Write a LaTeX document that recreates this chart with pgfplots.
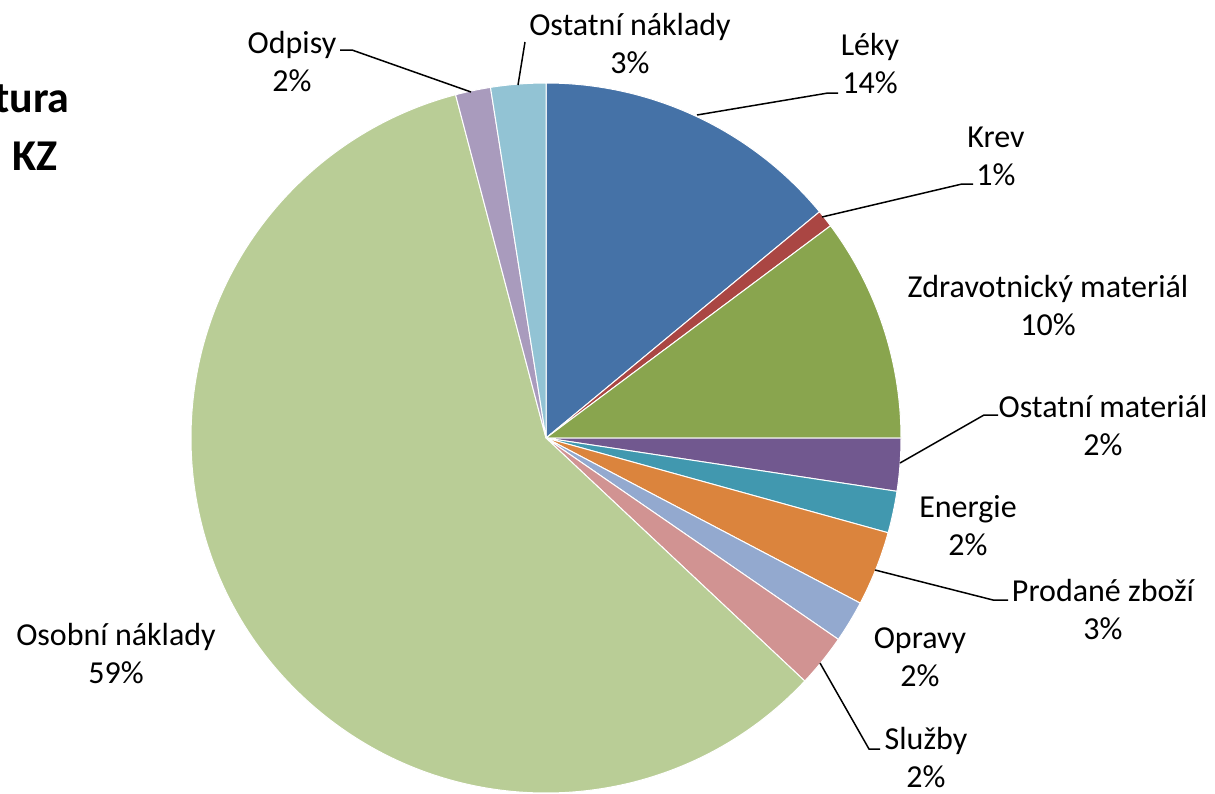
\documentclass[border=0pt]{standalone}
\usepackage{pgfplots}
\usepackage{pgfplotstable}
\pgfplotsset{compat=1.18}
\usepackage{fontspec}
\setmainfont{Carlito}

% Excel 2007 default palette
\definecolor{slice0}{HTML}{4572A7}
\definecolor{slice1}{HTML}{AA4643}
\definecolor{slice2}{HTML}{89A54E}
\definecolor{slice3}{HTML}{71588F}
\definecolor{slice4}{HTML}{4198AF}
\definecolor{slice5}{HTML}{DB843D}
\definecolor{slice6}{HTML}{93A9CF}
\definecolor{slice7}{HTML}{D19392}
\definecolor{slice8}{HTML}{B9CD96}
\definecolor{slice9}{HTML}{A99BBD}
\definecolor{slice10}{HTML}{92C3D4}

\tikzset{
    lbl/.style={align=center, font=\fontsize{16}{19}\selectfont},
    lead/.style={black, line width=0.75pt},
    ttl/.style={anchor=base east, inner sep=0pt, font=\bfseries\fontsize{22}{29}\selectfont},
}

% share of costs in percent, clockwise from 12 o'clock
\pgfplotstableread{
value
14.0
0.8
10.2
2.4
1.9
3.4
1.9
2.4
58.9
1.6
2.5
}\piedata

\begin{document}
\begin{tikzpicture}
\begin{axis}[
    x=0.5pt, y=0.5pt,
    xmin=0, xmax=1215, ymin=0, ymax=793,
    y dir=reverse,
    hide axis, clip=false,
]
\coordinate (bl) at (axis cs:0,793);
\coordinate (tr) at (axis cs:1215,0);
\gdef\cum{0}
\foreach \i in {0,...,10}{
    \pgfplotstablegetelem{\i}{value}\of\piedata
    \pgfmathsetmacro\a{90-3.6*\cum}
    \pgfmathsetmacro\b{90-3.6*(\cum+\pgfplotsretval)}
    \edef\cmd{\noexpand\fill[slice\i, draw=white, line width=0.5pt]
        (axis cs:546,438) -- ++(\a:177.5pt)
        arc[start angle=\a, end angle=\b, radius=177.5pt] -- cycle;}
    \cmd
    \pgfmathparse{\cum+\pgfplotsretval}
    \xdef\cum{\pgfmathresult}
}

% leader lines
\draw[lead] (axis cs:471,92) -- (axis cs:352,50) -- (axis cs:340,50);
\draw[lead] (axis cs:518,85) -- (axis cs:525,42);
\draw[lead] (axis cs:697,115) -- (axis cs:828,93) -- (axis cs:838,93);
\draw[lead] (axis cs:822,217) -- (axis cs:962,184) -- (axis cs:973,184);
\draw[lead] (axis cs:900,463) -- (axis cs:984,415) -- (axis cs:998,415);
\draw[lead] (axis cs:875,570) -- (axis cs:993,600) -- (axis cs:1008,600);
\draw[lead] (axis cs:820,663) -- (axis cs:869,749) -- (axis cs:880,749);

% data labels
\node[lbl] at (axis cs:630,44) {Ostatní náklady\\3\%};
\node[lbl] at (axis cs:870,64) {Léky\\14\%};
\node[lbl] at (axis cs:292,62) {Odpisy\\2\%};
\node[lbl] at (axis cs:996,156) {Krev\\1\%};
\node[lbl] at (axis cs:1048,306) {Zdravotnický materiál\\10\%};
\node[lbl] at (axis cs:1103,426) {Ostatní materiál\\2\%};
\node[lbl] at (axis cs:968,526) {Energie\\2\%};
\node[lbl] at (axis cs:1103,610) {Prodané zboží\\3\%};
\node[lbl] at (axis cs:920,657) {Opravy\\2\%};
\node[lbl] at (axis cs:926,758) {Služby\\2\%};
\node[lbl] at (axis cs:116,654) {Osobní náklady\\59\%};

% chart title, cut off at the left edge
\begin{scope}
\clip (axis cs:0,0) rectangle (axis cs:1215,793);
\node[ttl] at (axis cs:70,112) {Struktura};
\node[ttl] at (axis cs:58,170) {nákladů\hspace{0.6em}KZ};
\end{scope}
\end{axis}
\pgfresetboundingbox
\path[use as bounding box] (bl) rectangle (tr);
\end{tikzpicture}
\end{document}
